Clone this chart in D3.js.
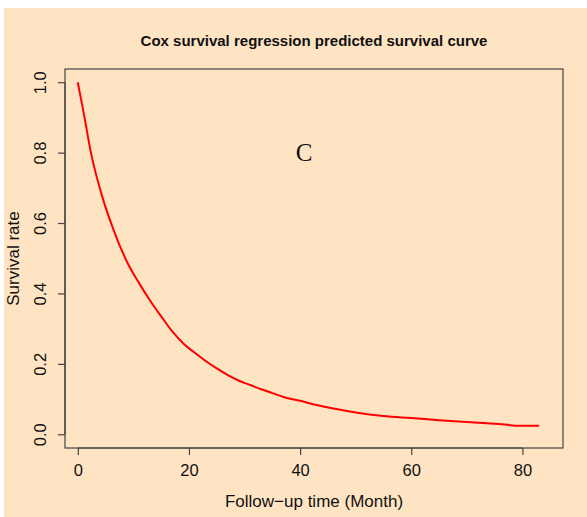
<!DOCTYPE html>
<html>
<head>
<meta charset="utf-8">
<script src="https://cdn.jsdelivr.net/npm/d3@7"></script>
<style>
  body { margin: 0; background: #ffffff; }
  svg { display: block; }
  text { font-family: "Liberation Sans", Arial, sans-serif; fill: #111; }
  .axis path, .axis line { stroke: #444; }
  .axis text { font-size: 16.5px; fill: #111; }
</style>
</head>
<body>
<svg id="chart" width="587" height="517"></svg>
<script>
// predicted survival
const months   = [0, 1, 2.5, 4.5, 6.5, 9, 11, 13, 15, 17, 19, 21, 23, 25, 27, 29, 31, 33, 35, 37, 40, 43, 46, 50, 55, 60, 65, 70, 75, 80, 83];
const survival = [1.0, 0.918, 0.79, 0.67, 0.578, 0.485, 0.43, 0.38, 0.335, 0.292, 0.258, 0.232, 0.208, 0.187, 0.168, 0.152, 0.14, 0.128, 0.117, 0.106, 0.095, 0.083, 0.073, 0.062, 0.052, 0.046, 0.040, 0.035, 0.030, 0.024, 0.024];
const xTicks = [0, 20, 40, 60, 80];
const yTicks = [0.0, 0.2, 0.4, 0.6, 0.8, 1.0];

const title = "Cox survival regression predicted survival curve";
const xLabel = "Follow\u2212up time (Month)";
const yLabel = "Survival rate";

const svg = d3.select("#chart");

// beige panel
svg.append("rect")
    .attr("x", 4).attr("y", 8)
    .attr("width", 583).attr("height", 509)
    .attr("fill", "#ffe4c4");

const box = {left: 65, right: 563, top: 69, bottom: 448};

let xScale = d3.scaleLinear().domain([-2.3, 87.3]).range([box.left, box.right]);
let yScale = d3.scaleLinear().domain([-0.039, 1.0375]).range([box.bottom, box.top]);

svg.append("rect")
    .attr("x", box.left).attr("y", box.top)
    .attr("width", box.right - box.left).attr("height", box.bottom - box.top)
    .attr("fill", "none").attr("stroke", "#444").attr("stroke-width", 1.2);

let x_axis = d3.axisBottom(xScale).tickValues(xTicks).tickSize(7).tickFormat(d3.format("d"));
let y_axis = d3.axisLeft(yScale).tickValues(yTicks).tickSize(7).tickFormat(d3.format(".1f"));

let gx = svg.append("g").attr("class", "axis")
    .attr("transform", `translate(0,${box.bottom})`)
    .call(x_axis);
gx.select(".domain")
    .attr("d", `M${xScale(0)},0H${xScale(80)}`)
    .attr("stroke-width", 1.2);
gx.selectAll(".tick line").attr("stroke-width", 1.2);
gx.selectAll(".tick text").attr("y", 0).attr("dy", null)
    .attr("transform", "translate(0,27.5)");

let gy = svg.append("g").attr("class", "axis")
    .attr("transform", `translate(${box.left},0)`)
    .call(y_axis);
gy.select(".domain")
    .attr("d", `M0,${yScale(0)}V${yScale(1)}`)
    .attr("stroke-width", 1.2);
gy.selectAll(".tick line").attr("stroke-width", 1.2);
gy.selectAll(".tick text")
    .attr("x", 0).attr("dy", null)
    .attr("text-anchor", "middle")
    .attr("transform", "translate(-19.5,0) rotate(-90)");

// survival curve
const line = d3.line()
    .x((d, i) => xScale(months[i]))
    .y((d, i) => yScale(survival[i]))
    .curve(d3.curveMonotoneX);

svg.append("path")
    .datum(survival)
    .attr("d", line)
    .attr("fill", "none")
    .attr("stroke", "#ff0000")
    .attr("stroke-width", 2)
    .attr("stroke-linejoin", "round");

svg.append("text")
    .attr("x", (box.left + box.right) / 2)
    .attr("y", 46)
    .attr("text-anchor", "middle")
    .style("font-size", "15px")
    .style("font-weight", "bold")
    .text(title);

svg.append("text")
    .attr("x", (box.left + box.right) / 2)
    .attr("y", 507)
    .attr("text-anchor", "middle")
    .style("font-size", "17px")
    .text(xLabel);

svg.append("text")
    .attr("transform", `translate(19,${(box.top + box.bottom) / 2}) rotate(-90)`)
    .attr("text-anchor", "middle")
    .style("font-size", "17px")
    .text(yLabel);

svg.append("text")
    .attr("x", 304)
    .attr("y", 161)
    .attr("text-anchor", "middle")
    .style("font-family", "'Liberation Serif', 'Times New Roman', serif")
    .style("font-size", "25px")
    .text("C");
</script>
</body>
</html>
